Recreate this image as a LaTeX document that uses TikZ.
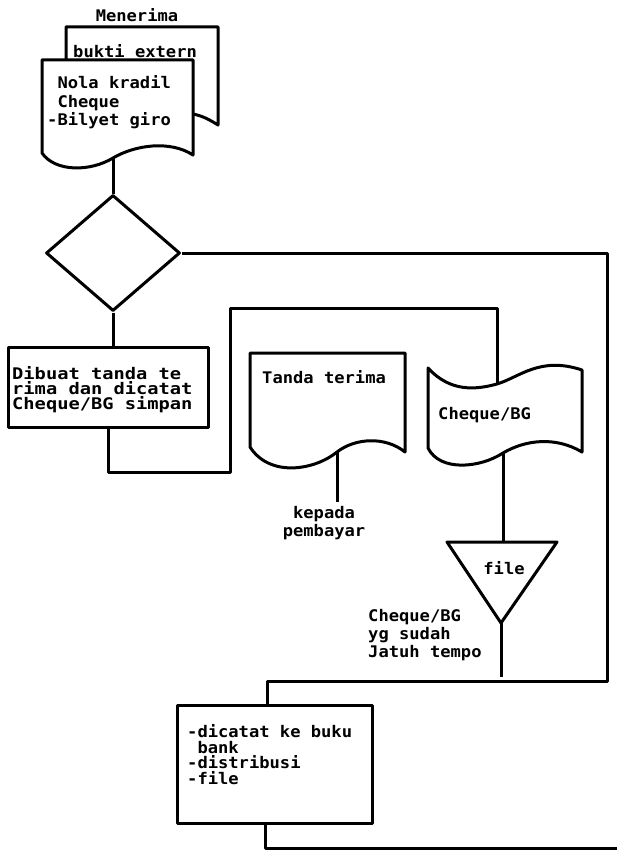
\documentclass[tikz,border=0pt]{standalone}
\usepackage{fontspec}
\newfontfamily\dotfont{DejaVu Sans Mono Bold}[FakeStretch=1.07]
\newfontfamily\dotwide{DejaVu Sans Mono Bold}[FakeStretch=1.17]
\usetikzlibrary{shapes.geometric,calc}
\begin{document}
\begin{tikzpicture}[x=1pt,y=-1pt,line join=round,
  ln/.style={line width=3pt},
  txt/.style={font=\dotfont\fontsize{16}{18}\selectfont,inner sep=0pt,align=left,anchor=base west},
  txtb/.style={font=\dotwide\fontsize{16}{15}\selectfont,inner sep=0pt,align=left,anchor=base west},
  txtc/.style={font=\dotfont\fontsize{16}{15.5}\selectfont,inner sep=0pt,align=left,anchor=base west},
  box/.style={ln,draw,inner sep=0pt,rectangle}]
\useasboundingbox (0,0) rectangle (617,864);
\fill[white] (0,0) rectangle (617,864);

% --- input documents
\draw[ln] (66,60) -- (66,27) -- (218,27) -- (218,125) .. controls (210,120) and (203,116) .. (193,114);
\draw[ln] (42,60) -- (193,60) -- (193,155) .. controls (170,140) and (135,145) .. (113,158)
   .. controls (90,172) and (55,172) .. (42,153) -- cycle;
\coordinate (docout) at (113,158);
\node[txt,anchor=base] (menerima) at (137,22) {Menerima};
\node[txt] (bukti) at (73,58) {bukti extern};
\node[txt] (nota) at (47,125) {\phantom{-}Nola kradil\\\phantom{-}Cheque\\-Bilyet giro};

% --- decision
\node[ln,draw,diamond,minimum width=134,minimum height=116,inner sep=0pt] (dia) at (113,253) {};
\draw[ln] (docout) -- (dia.north);

% --- box 1
\node[box,minimum width=200,minimum height=80] (box1) at (108,387) {};
\node[txtb] (box1t) at (12,409) {Dibuat tanda te\\rima dan dicatat\\Cheque/BG simpan};
\draw[ln] (dia.south) -- (dia.south |- box1.north);

% --- Tanda terima document
\draw[ln] (250,353) -- (405,353) -- (405,452) .. controls (385,436) and (355,438) .. (337,452)
   .. controls (315,470) and (270,478) .. (250,447) -- cycle;
\coordinate (ttout) at (337,452);
\coordinate (kepend) at (337,502);
\node[txt] (tt) at (262,383) {Tanda terima};
\draw[ln] (ttout) -- (kepend);
\node[txt,align=center,anchor=base] (kepada) at (324,536) {kepada\\pembayar};

% --- Cheque/BG (punched tape)
\draw[ln] (428,368) .. controls (450,392) and (475,390) .. (497,384)
   .. controls (520,377) and (540,356) .. (582,370) -- (582,452)
   .. controls (555,436) and (525,440) .. (503,453)
   .. controls (480,468) and (440,472) .. (428,448) -- cycle;
\coordinate (chqtop) at (497,384);
\coordinate (chqout) at (503,453);
\node[txt] (chq) at (438,419) {Cheque/BG};

% --- loop from box1 to Cheque/BG
\coordinate (l1) at (108,472);
\coordinate (l2) at (230,472);
\coordinate (l3) at (230,308);
\coordinate (l4) at (497,308);
\draw[ln] (box1.south) -- (l1) -- (l2) -- (l3) -- (l4) -- (chqtop);

% --- file triangle
\coordinate (tritop) at (503,542);
\coordinate (apex) at (501,623);
\draw[ln] (447,542) -- (557,542) -- (apex) -- cycle;
\node[txt,anchor=base] (file) at (504,574) {file};
\draw[ln] (chqout) -- (tritop);
\coordinate (fileend) at (501,677);
\draw[ln] (apex) -- (fileend);
\node[txt] (jt) at (368,657) {Cheque/BG\\yg sudah\\Jatuh tempo};

% --- box 3
\node[box,minimum width=195,minimum height=118] (box3) at (274.5,764) {};
\node[txtc] (box3t) at (187,784) {-dicatat ke buku\\\phantom{-}bank\\-distribusi\\-file};

% --- right loop from decision
\coordinate (r1) at (607,253);
\coordinate (r2) at (607,681);
\coordinate (r3) at (267,681);
\draw[ln] (dia.east) -- (r1) -- (r2) -- (r3) -- (r3 |- box3.north);

% --- exit of box 3
\coordinate (b1) at (265,848);
\coordinate (b2) at (617,848);
\draw[ln] (b1 |- box3.south) -- (b1) -- (b2);
\end{tikzpicture}
\end{document}
